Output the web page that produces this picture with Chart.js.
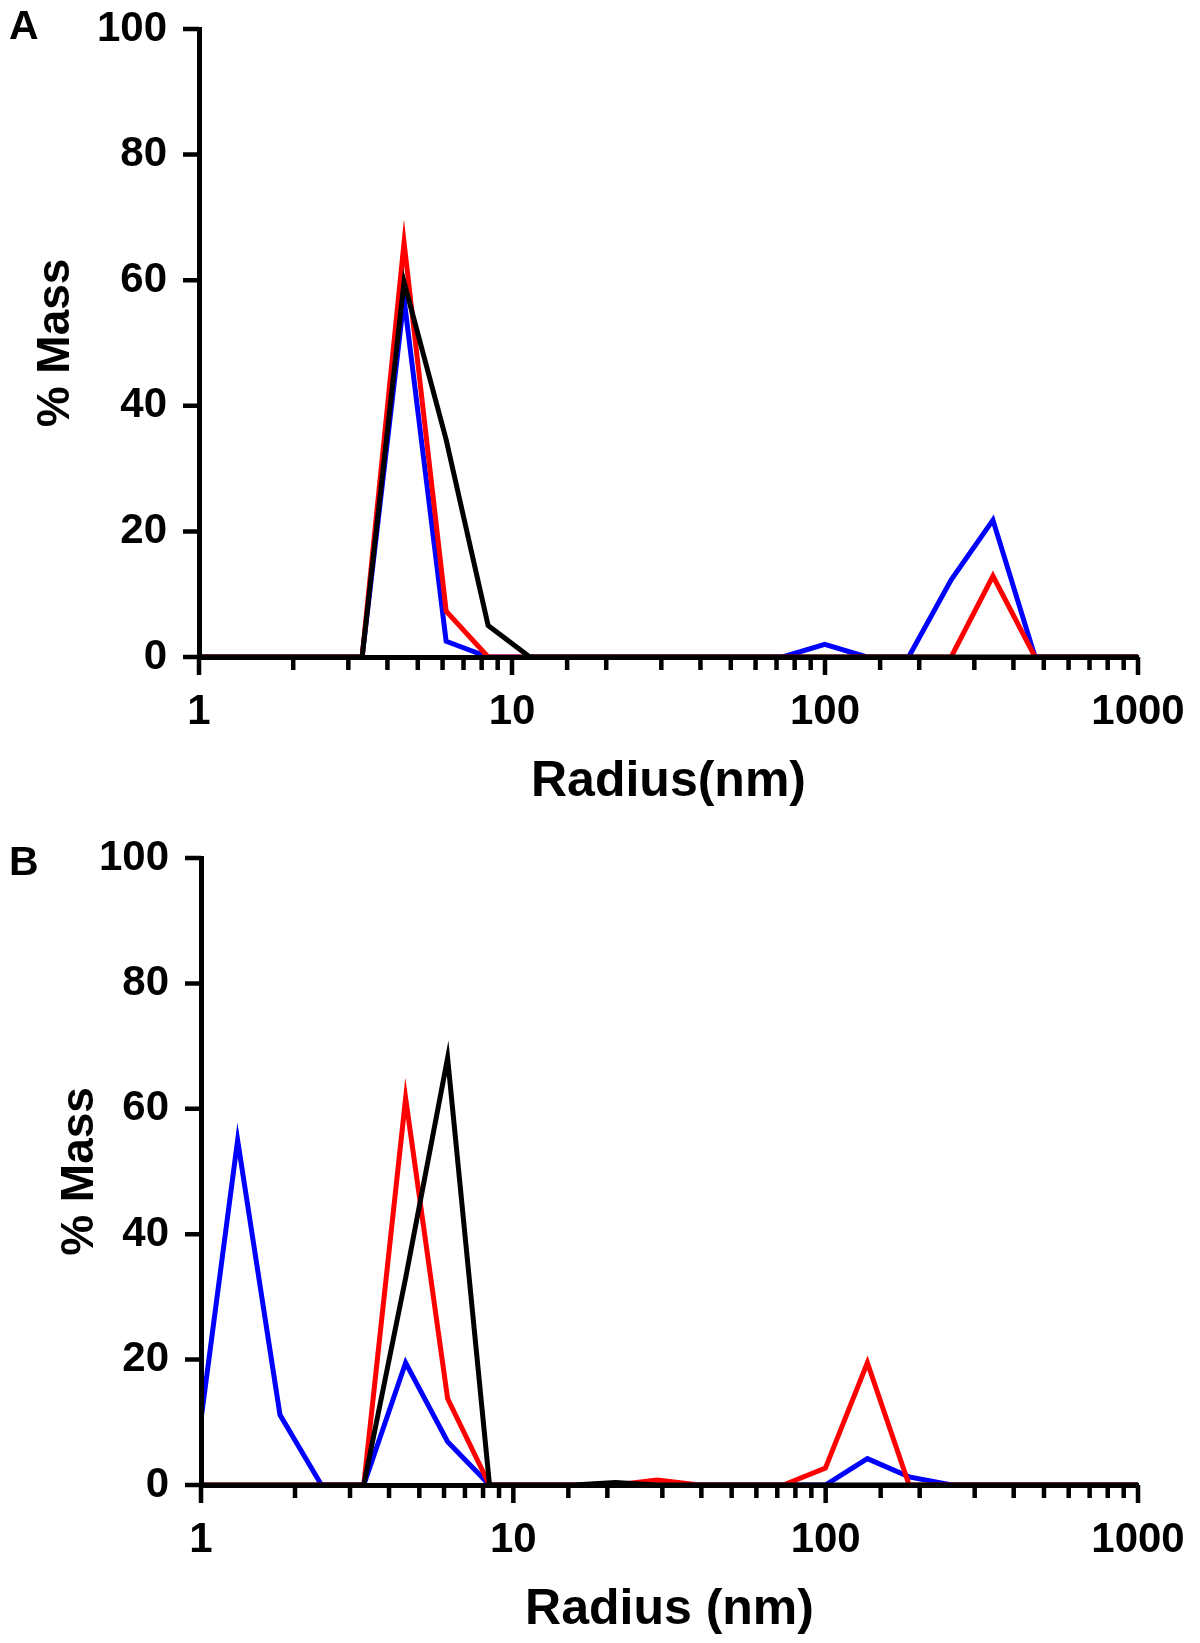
<!DOCTYPE html>
<html lang="en">
<head>
<meta charset="utf-8">
<title>% Mass vs Radius</title>
<script src="https://cdn.jsdelivr.net/npm/chart.js@4.4.1/dist/chart.umd.min.js"></script>
<style>
  html, body { margin: 0; padding: 0; background: #fff; }
  .figure { position: relative; width: 1200px; height: 1643px; background: #fff; }
  .figure canvas { position: absolute; left: 0; }
  .panel-letter {
    position: absolute;
    left: 9px;
    font: bold 41px 'Liberation Sans', Arial, sans-serif;
    line-height: 1;
    color: #000;
  }
</style>
</head>
<body>
<div class="figure">
  <canvas id="chartA" width="1200" height="821" style="top:0"></canvas>
  <canvas id="chartB" width="1200" height="822" style="top:821px"></canvas>
  <div class="panel-letter" style="top:5px">A</div>
  <div class="panel-letter" style="top:841px">B</div>
</div>
<script>
// size bins (nm), shared by every trace
const radius = [1.00, 1.31, 1.79, 2.43, 3.32, 4.52, 6.16, 8.39, 11.4, 15.6, 21.2, 28.9,
  39.4, 53.7, 73.2, 99.8, 136, 185, 253, 344, 469, 639, 871, 1187];

// panel A
const blueA = [0, 0, 0, 0, 0, 57, 2.5, 0, 0, 0, 0, 0, 0, 0, 0, 2, 0, 0, 12.3, 21.8, 0, 0, 0, 0];
const redA = [0, 0, 0, 0, 0, 66, 7.3, 0, 0, 0, 0, 0, 0, 0, 0, 0, 0, 0, 0, 12.9, 0, 0, 0, 0];
const blackA = [0, 0, 0, 0, 0, 59.7, 34.6, 5, 0, 0, 0, 0, 0, 0, 0, 0, 0, 0, 0, 0, 0, 0, 0, 0];

// panel B
const blueB = [10.4, 55, 11.2, 0, 0, 19.5, 6.9, 0, 0, 0, 0, 0, 0, 0, 0, 0, 4.2, 1.3, 0, 0, 0, 0, 0, 0];
const redB = [0, 0, 0, 0, 0, 61.7, 13.8, 0, 0, 0, 0, 0.8, 0, 0, 0, 2.7, 19.5, 0, 0, 0, 0, 0, 0, 0];
const blackB = [0, 0, 0, 0, 0, 33, 68.1, 0, 0, 0, 0.4, 0, 0, 0, 0, 0, 0, 0, 0, 0, 0, 0, 0, 0];

const xTickLabels = ['1', '10', '100', '1000'];
const yTicks = [0, 20, 40, 60, 80, 100];

const FONT = "'Liberation Sans', Arial, sans-serif";
const tickFont = { family: FONT, size: 42, weight: 'bold', lineHeight: 1.2 };
const xTitleFont = { family: FONT, size: 50, weight: 'bold', lineHeight: 1 };
const yTitleFont = { family: FONT, size: 46, weight: 'bold', lineHeight: 1 };

const isDecade = (v) => Math.abs(Math.log10(v) - Math.round(Math.log10(v))) < 1e-9;

// tick marks: long on decades, short on the minor ones
const tickMarks = {
  id: 'tickMarks',
  afterDraw(chart) {
    const { ctx, chartArea, scales: { x, y } } = chart;
    ctx.save();
    ctx.strokeStyle = '#000';
    ctx.lineWidth = 4.5;
    ctx.beginPath();
    x.ticks.forEach((t) => {
      const px = x.getPixelForValue(t.value);
      ctx.moveTo(px, chartArea.bottom);
      ctx.lineTo(px, chartArea.bottom + (isDecade(t.value) ? 18 : 13));
    });
    y.ticks.forEach((t) => {
      const py = y.getPixelForValue(t.value);
      ctx.moveTo(chartArea.left, py);
      ctx.lineTo(chartArea.left - 16, py);
    });
    ctx.stroke();
    ctx.restore();
  },
};

function makeChart(id, series, layout) {
  const datasets = series.map((s) => ({
    data: radius.map((r, i) => ({ x: r, y: s.values[i] })),
    borderColor: s.color,
    borderWidth: 5,
    borderJoinStyle: 'miter',
    pointRadius: 0,
    tension: 0,
    order: s.order,
  }));

  return new Chart(document.getElementById(id), {
    type: 'line',
    data: { datasets },
    options: {
      responsive: false,
      animation: false,
      devicePixelRatio: 1,
      layout: { padding: { top: layout.top, right: layout.right, left: 0, bottom: 0 } },
      plugins: {
        legend: { display: false },
        tooltip: { enabled: false },
      },
      scales: {
        x: {
          type: 'logarithmic',
          min: 1,
          max: 1000,
          grid: { display: false, drawTicks: false },
          border: { display: true, color: '#000', width: 5, z: 1 },
          ticks: {
            autoSkip: false,
            maxRotation: 0,
            padding: 30,
            color: '#000',
            font: tickFont,
            callback: (v) => (xTickLabels.includes(String(v)) ? String(v) : ''),
          },
          title: {
            display: true,
            text: layout.xTitle,
            color: '#000',
            font: xTitleFont,
            padding: { top: 0, bottom: layout.xTitlePad },
          },
          afterFit: (scale) => {
            scale.height = layout.xHeight;
            scale.paddingLeft = 0;
            scale.paddingRight = 0;
          },
        },
        y: {
          min: 0,
          max: 100,
          afterBuildTicks: (scale) => {
            scale.ticks = yTicks.map((v) => ({ value: v }));
          },
          grid: { display: false, drawTicks: false },
          border: { display: true, color: '#000', width: 5, z: 1 },
          ticks: { padding: 32, color: '#000', font: tickFont },
          title: {
            display: true,
            text: '% Mass',
            color: '#000',
            font: yTitleFont,
            padding: { top: layout.yTitlePad, bottom: 0 },
          },
          afterFit: (scale) => {
            scale.width = layout.left;
            scale.paddingTop = 0;
            scale.paddingBottom = 0;
          },
        },
      },
    },
    plugins: [tickMarks],
  });
}

makeChart('chartA', [
  { values: blackA, color: '#000000', order: 1 },
  { values: redA, color: '#ff0000', order: 2 },
  { values: blueA, color: '#0000ff', order: 3 },
], { top: 29, right: 62, left: 199, xHeight: 164, xTitle: 'Radius(nm)', xTitlePad: 14, yTitlePad: 33 });

makeChart('chartB', [
  { values: blackB, color: '#000000', order: 1 },
  { values: redB, color: '#ff0000', order: 2 },
  { values: blueB, color: '#0000ff', order: 3 },
], { top: 37, right: 62, left: 201, xHeight: 158, xTitle: 'Radius (nm)', xTitlePad: 8, yTitlePad: 57 });
</script>
</body>
</html>
